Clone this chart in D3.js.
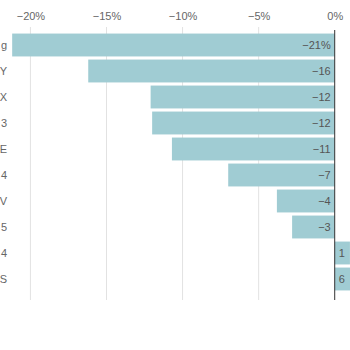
<!DOCTYPE html>
<html>
<head>
<meta charset="utf-8">
<script src="https://cdn.jsdelivr.net/npm/d3@7"></script>
<style>
  body { margin: 0; background: #fff; overflow: hidden; }
  svg { display: block; font-family: "Liberation Sans", Arial, sans-serif; }
  .tick text { fill: #666; font-size: 11px; }
  .cat text { fill: #666; font-size: 11px; }
  .value-label { fill: #555; font-size: 11px; }
</style>
</head>
<body>
<svg id="chart"></svg>
<script>
// visible (cut-off) category labels, top to bottom
const categories = ['g', 'Y', 'X', '3', 'E', '4', 'V', '5', '4', 'S'];
const changes = [-21.2, -16.2, -12.1, -12.0, -10.7, -7.0, -3.8, -2.8, 1.0, 6.0];
const xTicks = [-20, -15, -10, -5, 0];

const width = 350, height = 350;

const svg = d3.select('#chart')
    .attr('width', width)
    .attr('height', height);

const data = categories.map((c, i) => ({i, cat: c, value: changes[i]}));

// chart is wider than the frame, so the right side gets cut off
const x = d3.scaleLinear()
    .domain([-22, 6])
    .range([0, 426]);

const y = d3.scaleBand()
    .domain(data.map(d => d.i))
    .range([32, 292])
    .paddingInner(0.12)
    .paddingOuter(0.06);

// Gridlines + top axis labels
const xAxis = d3.axisTop(x)
    .tickValues(xTicks)
    .tickSize(0)
    .tickPadding(0)
    .tickFormat(d => d3.format('d')(d) + '%');

const xAxisG = svg.append('g')
    .attr('transform', 'translate(0,20)')
    .call(xAxis);
xAxisG.select('.domain').remove();

svg.append('g')
    .selectAll('line')
    .data(xTicks.filter(d => d !== 0))
  .join('line')
    .attr('x1', d => x(d))
    .attr('x2', d => x(d))
    .attr('y1', 27)
    .attr('y2', 300)
    .attr('stroke', '#e2e2e2')
    .attr('stroke-width', 1);

// Bars
svg.append('g')
    .selectAll('rect')
    .data(data)
  .join('rect')
    .attr('x', d => x(Math.min(0, d.value)))
    .attr('y', d => y(d.i))
    .attr('width', d => Math.abs(x(d.value) - x(0)))
    .attr('height', y.bandwidth())
    .attr('fill', '#a0ccd3');

// Value labels
const fmt = d3.format('.0f');
svg.append('g')
    .selectAll('text')
    .data(data)
  .join('text')
    .attr('class', 'value-label')
    .attr('x', d => d.value < 0 ? x(0) - 4 : x(0) + 4)
    .attr('y', d => y(d.i) + y.bandwidth() / 2)
    .attr('dy', '0.35em')
    .attr('text-anchor', d => d.value < 0 ? 'end' : 'start')
    .text((d, i) => fmt(d.value) + (i === 0 ? '%' : ''));

// Zero line
svg.append('line')
    .attr('x1', x(0))
    .attr('x2', x(0))
    .attr('y1', 30)
    .attr('y2', 300)
    .attr('stroke', '#333')
    .attr('stroke-width', 1);

// Category labels (left axis, names run off the frame)
const yAxis = d3.axisLeft(y)
    .tickSize(0)
    .tickPadding(0)
    .tickFormat(i => categories[i]);

const yAxisG = svg.append('g')
    .attr('class', 'cat')
    .attr('transform', 'translate(7,0)')
    .call(yAxis);
yAxisG.select('.domain').remove();
</script>
</body>
</html>
